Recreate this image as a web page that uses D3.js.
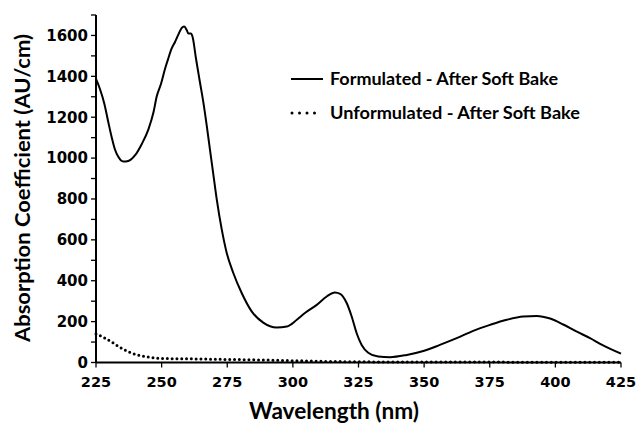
<!DOCTYPE html>
<html><head><meta charset="utf-8">
<script src="https://cdn.jsdelivr.net/npm/d3@7"></script>
<style>body{margin:0;background:#fff}svg{display:block}</style>
</head><body>
<script>
// Data
const formWl = [225,226.5,228.2,229.7,231,232.2,233.5,235.4,237.3,239.9,242.4,245,246.9,248.1,249.8,251.3,252.5,253.8,255.1,256.4,257.6,258.6,259.6,260.2,261.1,261.8,263.1,264.6,265.9,267.2,268.4,269.7,271,272.9,274.8,277.3,280.5,284.3,288.7,293.8,297.7,301.5,304.6,309.1,312.9,316,318,320.5,322.4,324.3,326.2,328.7,332.5,337,343.4,349.7,356,362.4,368.7,375.1,381.5,387.8,392.9,398,403,408,413.2,418,425];
const formVal = [1387,1338,1265,1175,1101,1043,1006,983,986,1014,1068,1142,1224,1300,1365,1437,1486,1535,1568,1605,1636,1644,1625,1609,1609,1592,1486,1371,1273,1158,1043,920,798,651,536,438,340,250,195,171,176,209,242,282,323,343,336,291,225,143,86,48,29,26,37,56,86,119,155,184,209,225,228,215,186,152,119,85,43];
const unfWl = [225,228,231,234,237,240,243,246,250,260,270,280,290,300,310,320,330,350,375,400,425];
const unfVal = [140,122,100,75,55,40,31,25,20,18,16,14,12,9,6,4,3,2,2,1,1];
const xTicks = [225,250,275,300,325,350,375,400,425];
const yTicks = [0,200,400,600,800,1000,1200,1400,1600];
const yMinor = d3.range(0,1701,100);
const seriesNames = ["Formulated - After Soft Bake","Unformulated - After Soft Bake"];

const W=637,H=426;
const svg=d3.select("body").append("svg").attr("width",W).attr("height",H);
const x=d3.scaleLinear().domain([225,425]).range([96,621]);
const y=d3.scaleLinear().domain([0,1700]).range([362.5,15]);

const tickFont="'DejaVu Sans', sans-serif";
// y axis
const yAxis=svg.append("g").attr("transform","translate(96,0)");
yAxis.append("line").attr("x1",0).attr("x2",0).attr("y1",y(1700)).attr("y2",y(0)).attr("stroke","#000").attr("stroke-width",2);
yAxis.selectAll("line.t").data(yMinor).join("line").attr("class","t")
  .attr("x1",-5).attr("x2",0).attr("y1",d=>y(d)).attr("y2",d=>y(d)).attr("stroke","#000").attr("stroke-width",1.3);
yAxis.selectAll("text").data(yTicks).join("text")
  .attr("x",-8).attr("y",d=>y(d)).attr("dy","0.36em").attr("text-anchor","end")
  .attr("font-family",tickFont).attr("font-weight","bold").attr("font-size",15).text(d=>d);
// x axis
const xAxis=svg.append("g");
xAxis.append("line").attr("x1",x(225)).attr("x2",x(425)).attr("y1",y(0)).attr("y2",y(0)).attr("stroke","#000").attr("stroke-width",2);
xAxis.selectAll("line.t").data(xTicks).join("line").attr("class","t")
  .attr("x1",d=>x(d)).attr("x2",d=>x(d)).attr("y1",y(0)).attr("y2",y(0)+5).attr("stroke","#000").attr("stroke-width",1.3);
xAxis.selectAll("text").data(xTicks).join("text")
  .attr("x",d=>x(d)).attr("y",387).attr("text-anchor","middle")
  .attr("font-family",tickFont).attr("font-weight","bold").attr("font-size",14.5).text(d=>d);

// titles
const titleFont="Lato, 'Open Sans', sans-serif";
svg.append("text").attr("x",334).attr("y",419).attr("text-anchor","middle")
  .attr("font-family",titleFont).attr("font-weight","bold").attr("font-size",22)
  .attr("textLength",170).attr("lengthAdjust","spacingAndGlyphs").text("Wavelength (nm)");
svg.append("text").attr("transform","translate(30,188) rotate(-90)").attr("text-anchor","middle")
  .attr("font-family",titleFont).attr("font-weight","bold").attr("font-size",20)
  .attr("textLength",308).attr("lengthAdjust","spacingAndGlyphs").text("Absorption Coefficient (AU/cm)");

// lines
const line=d3.line().x(d=>x(d[0])).y(d=>y(d[1])).curve(d3.curveMonotoneX);
svg.append("path").datum(unfWl.map((w,i)=>[w,unfVal[i]])).attr("d",line)
  .attr("fill","none").attr("stroke","#000").attr("stroke-width",3)
  .attr("stroke-linecap","round").attr("stroke-dasharray","0,4.8");
svg.append("path").datum(formWl.map((w,i)=>[w,formVal[i]])).attr("d",line)
  .attr("fill","none").attr("stroke","#000").attr("stroke-width",2);

// legend
const leg=svg.append("g");
leg.append("line").attr("x1",291).attr("x2",323).attr("y1",79).attr("y2",79).attr("stroke","#000").attr("stroke-width",2);
leg.append("line").attr("x1",292).attr("x2",315).attr("y1",113).attr("y2",113).attr("stroke","#000").attr("stroke-width",3)
  .attr("stroke-linecap","round").attr("stroke-dasharray","0,7.5");
leg.append("text").attr("x",330).attr("y",85).attr("font-family",titleFont).attr("font-weight","bold").attr("font-size",16.5)
  .attr("textLength",228).attr("lengthAdjust","spacingAndGlyphs").text(seriesNames[0]);
leg.append("text").attr("x",330).attr("y",119).attr("font-family",titleFont).attr("font-weight","bold").attr("font-size",16.5)
  .attr("textLength",250).attr("lengthAdjust","spacingAndGlyphs").text(seriesNames[1]);
</script>
</body></html>
